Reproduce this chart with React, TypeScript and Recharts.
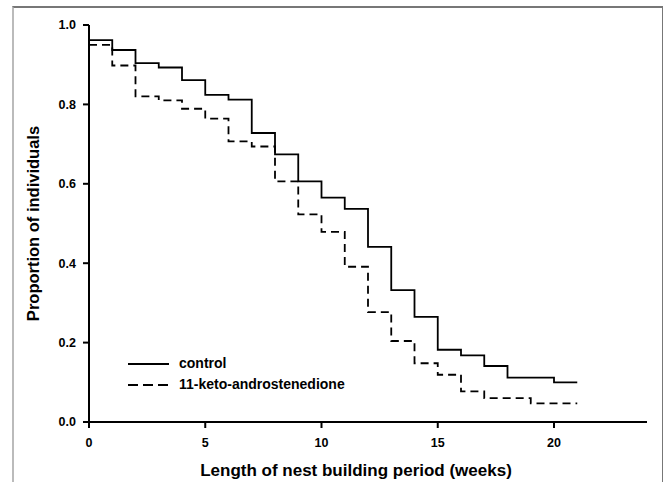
import React from "react";
import { LineChart, Line, XAxis, YAxis, Label } from "recharts";

const weeks = [0, 1, 2, 3, 4, 5, 6, 7, 8, 9, 10, 11, 12, 13, 14, 15, 16, 17, 18, 19, 20, 21];
const controlProp = [0.962, 0.937, 0.904, 0.893, 0.861, 0.824, 0.812, 0.728, 0.674, 0.606, 0.565, 0.537, 0.441, 0.332, 0.265, 0.182, 0.168, 0.141, 0.112, 0.112, 0.1, 0.1];
const ketoProp = [0.95, 0.898, 0.82, 0.81, 0.789, 0.764, 0.707, 0.694, 0.606, 0.523, 0.479, 0.391, 0.277, 0.204, 0.148, 0.119, 0.077, 0.06, 0.06, 0.047, 0.047, 0.047];
const xTicks = [0, 5, 10, 15, 20];
const yTicks = [0, 0.2, 0.4, 0.6, 0.8, 1.0];
const seriesNames = ["control", "11-keto-androstenedione"];

const data = weeks.map((w, i) => ({ week: w, control: controlProp[i], keto: ketoProp[i] }));

const FONT = "'Liberation Sans', Arial, Helvetica, sans-serif";

const LegendBox = () => (
  <div
    style={{
      position: "absolute",
      left: 127,
      top: 353,
      fontFamily: FONT,
      fontWeight: 700,
      fontSize: 14,
      color: "#000",
      lineHeight: "21px",
    }}
  >
    {seriesNames.map((name, i) => (
      <div key={name} style={{ display: "flex", alignItems: "center", height: 21 }}>
        <svg width={44} height={10} style={{ marginRight: 8 }}>
          <line x1={1} y1={5} x2={42} y2={5} stroke="#000" strokeWidth={1.8} strokeDasharray={i === 1 ? "10 5" : undefined} />
        </svg>
        <span>{name}</span>
      </div>
    ))}
  </div>
);

export default function App() {
  return (
    <div style={{ position: "absolute", left: 0, top: 0, width: 663, height: 482, background: "#fff", overflow: "hidden" }}>
      <div
        style={{
          position: "absolute",
          left: 12,
          top: 6,
          width: 648,
          height: 520,
          borderTop: "2px solid #777",
          borderRight: "2px solid #777",
          borderLeft: "2px solid #bbb",
        }}
      />
      <div style={{ position: "absolute", left: 0, top: 0 }}>
        <LineChart width={663} height={482} data={data} margin={{ top: 25, right: 16, bottom: 0, left: 0 }}>
          <XAxis
            dataKey="week"
            type="number"
            domain={[0, 24]}
            ticks={xTicks}
            height={60}
            stroke="#000"
            strokeWidth={2}
            tickSize={6}
            tickMargin={10}
            tick={{ fill: "#000", fontSize: 12.5, fontWeight: 700, fontFamily: FONT }}
          >
            <Label
              value="Length of nest building period (weeks)"
              position="insideBottom"
              offset={6}
              dx={-12}
              style={{ fill: "#000", fontSize: 17, fontWeight: 700, fontFamily: FONT }}
            />
          </XAxis>
          <YAxis
            type="number"
            domain={[0, 1]}
            ticks={yTicks}
            width={89}
            stroke="#000"
            strokeWidth={2}
            tickSize={6}
            tickMargin={7}
            tickFormatter={(v: number) => v.toFixed(1)}
            tick={{ fill: "#000", fontSize: 12.5, fontWeight: 700, fontFamily: FONT }}
          >
            <Label
              value="Proportion of individuals"
              angle={-90}
              position="insideLeft"
              offset={33}
              style={{ textAnchor: "middle", fill: "#000", fontSize: 16.5, fontWeight: 700, fontFamily: FONT }}
            />
          </YAxis>
          <Line
            type="stepAfter"
            dataKey="control"
            name={seriesNames[0]}
            stroke="#000"
            strokeWidth={1.8}
            dot={false}
            isAnimationActive={false}
          />
          <Line
            type="stepAfter"
            dataKey="keto"
            name={seriesNames[1]}
            stroke="#000"
            strokeWidth={1.8}
            strokeDasharray="8 5"
            dot={false}
            isAnimationActive={false}
          />
        </LineChart>
      </div>
      <LegendBox />
    </div>
  );
}
